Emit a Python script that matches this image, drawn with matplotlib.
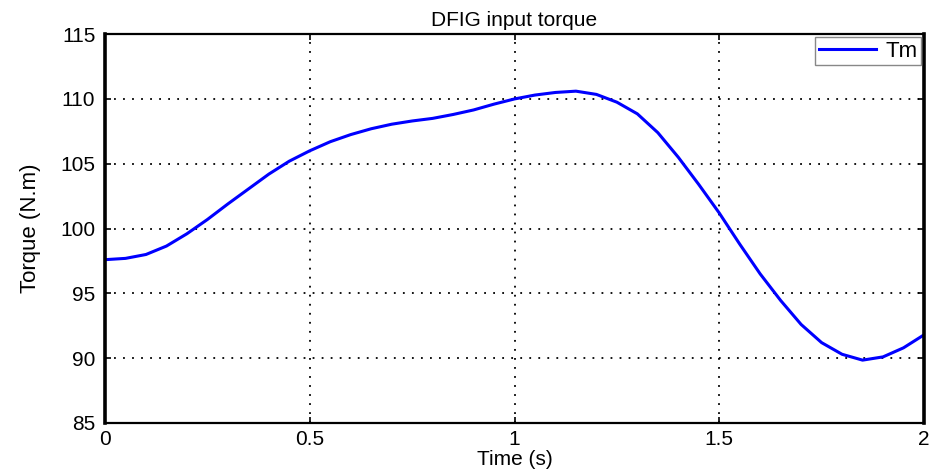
import matplotlib
matplotlib.use('Agg')
import matplotlib.pyplot as plt

# torque, every 0.05 s
t = [0.00, 0.05, 0.10, 0.15, 0.20, 0.25, 0.30, 0.35, 0.40, 0.45,
     0.50, 0.55, 0.60, 0.65, 0.70, 0.75, 0.80, 0.85, 0.90, 0.95,
     1.00, 1.05, 1.10, 1.15, 1.20, 1.25, 1.30, 1.35, 1.40, 1.45,
     1.50, 1.55, 1.60, 1.65, 1.70, 1.75, 1.80, 1.85, 1.90, 1.95, 2.00]
tm = [97.6, 97.7, 98.0, 98.65, 99.6, 100.7, 101.9, 103.05, 104.2, 105.2,
      106.0, 106.7, 107.25, 107.7, 108.05, 108.3, 108.5, 108.8, 109.15, 109.6,
      110.0, 110.3, 110.5, 110.6, 110.35, 109.75, 108.85, 107.4, 105.5, 103.4,
      101.2, 98.8, 96.5, 94.45, 92.6, 91.2, 90.3, 89.85, 90.1, 90.8, 91.8]

xticks = [0, 0.5, 1, 1.5, 2]
xlabels = ['0', '0.5', '1', '1.5', '2']
yticks = [85, 90, 95, 100, 105, 110, 115]

plt.rcParams['font.family'] = ['Liberation Sans', 'DejaVu Sans']

fig = plt.figure(figsize=(9.32, 4.74), dpi=100)
ax = fig.add_axes([0.1127, 0.1076, 0.8787, 0.8204])

ax.plot(t, tm, color='#0000ff', linewidth=2.2, label='Tm',
        solid_joinstyle='round')

ax.set_xlim(0, 2)
ax.set_ylim(85, 115)
ax.set_xticks(xticks)
ax.set_xticklabels(xlabels)
ax.set_yticks(yticks)
ax.tick_params(direction='in', length=4, width=1.2, labelsize=15,
               top=True, right=True)
ax.tick_params(axis='x', pad=5)
ax.tick_params(axis='y', pad=7)

ax.grid(True, color='black', linestyle=(0, (1, 4)), linewidth=1.3)

for side in ['left', 'right']:
    ax.spines[side].set_linewidth(2.6)
for side in ['top', 'bottom']:
    ax.spines[side].set_linewidth(1.6)

ax.set_title('DFIG input torque', fontsize=15, pad=6)
ax.set_xlabel('Time (s)', fontsize=15, labelpad=1)
ax.set_ylabel('Torque (N.m)', fontsize=16, labelpad=14)

leg = ax.legend(loc='upper right', fontsize=16, fancybox=False,
                borderaxespad=0.15, handlelength=2.6, handletextpad=0.4,
                borderpad=0.15, framealpha=1)
leg.get_frame().set_edgecolor('#888888')
leg.get_frame().set_linewidth(1.0)

fig.savefig('out.png', dpi=100)
